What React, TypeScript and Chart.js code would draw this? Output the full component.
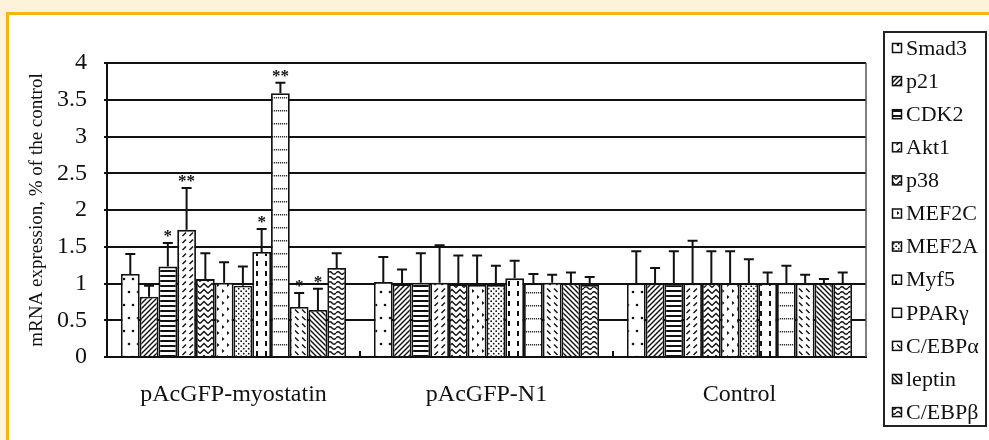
import React, { useEffect, useRef } from 'react';
import { Chart, registerables } from 'chart.js';

Chart.register(...registerables);

const SERIF = '"Liberation Serif", "Times New Roman", serif';

// Categories (groups on the x axis)
const groups = ['pAcGFP-myostatin', 'pAcGFP-N1', 'Control'];

// Series (genes), legend order
const genes = ['Smad3', 'p21', 'CDK2', 'Akt1', 'p38', 'MEF2C', 'MEF2A', 'Myf5', 'PPARγ', 'C/EBPα', 'leptin', 'C/EBPβ'];

// Mean values per gene for [pAcGFP-myostatin, pAcGFP-N1, Control]
const smad3 = [1.13, 1.02, 1.0];
const p21 = [0.82, 0.99, 1.0];
const cdk2 = [1.23, 1.01, 1.0];
const akt1 = [1.73, 1.01, 1.0];
const p38 = [1.06, 0.99, 1.0];
const mef2c = [1.01, 0.98, 1.0];
const mef2a = [0.97, 0.98, 1.0];
const myf5 = [1.43, 1.07, 1.0];
const pparg = [3.59, 1.0, 1.0];
const cebpa = [0.68, 1.01, 1.0];
const leptin = [0.64, 1.0, 1.0];
const cebpb = [1.21, 0.98, 1.0];

// Upper error (SD) per gene for the same groups
const smad3Err = [0.27, 0.34, 0.44];
const p21Err = [0.15, 0.2, 0.21];
const cdk2Err = [0.32, 0.4, 0.44];
const akt1Err = [0.57, 0.51, 0.58];
const p38Err = [0.35, 0.39, 0.44];
const mef2cErr = [0.28, 0.4, 0.44];
const mef2aErr = [0.26, 0.26, 0.33];
const myf5Err = [0.31, 0.24, 0.15];
const ppargErr = [0.14, 0.13, 0.24];
const cebpaErr = [0.19, 0.11, 0.12];
const leptinErr = [0.29, 0.15, 0.06];
const cebpbErr = [0.2, 0.11, 0.15];

// Significance marks per gene for the same groups
const smad3Sig = ['', '', ''];
const p21Sig = ['', '', ''];
const cdk2Sig = ['*', '', ''];
const akt1Sig = ['**', '', ''];
const p38Sig = ['', '', ''];
const mef2cSig = ['', '', ''];
const mef2aSig = ['', '', ''];
const myf5Sig = ['*', '', ''];
const ppargSig = ['**', '', ''];
const cebpaSig = ['*', '', ''];
const leptinSig = ['*', '', ''];
const cebpbSig = ['', '', ''];

// Y axis ticks
const yTicks = [0, 0.5, 1, 1.5, 2, 2.5, 3, 3.5, 4];

const seriesValues = [smad3, p21, cdk2, akt1, p38, mef2c, mef2a, myf5, pparg, cebpa, leptin, cebpb];
const seriesErrors = [smad3Err, p21Err, cdk2Err, akt1Err, p38Err, mef2cErr, mef2aErr, myf5Err, ppargErr, cebpaErr, leptinErr, cebpbErr];
const seriesSig = [smad3Sig, p21Sig, cdk2Sig, akt1Sig, p38Sig, mef2cSig, mef2aSig, myf5Sig, ppargSig, cebpaSig, leptinSig, cebpbSig];

type Drawer = (c: CanvasRenderingContext2D) => void;

function tile(w: number, h: number, draw: Drawer): HTMLCanvasElement {
  const cv = document.createElement('canvas');
  cv.width = w;
  cv.height = h;
  const c = cv.getContext('2d') as CanvasRenderingContext2D;
  c.fillStyle = '#ffffff';
  c.fillRect(0, 0, w, h);
  c.fillStyle = '#111';
  c.strokeStyle = '#111';
  c.lineCap = 'butt';
  draw(c);
  return cv;
}

function line(c: CanvasRenderingContext2D, pts: number[][], lw: number) {
  c.lineWidth = lw;
  c.beginPath();
  c.moveTo(pts[0][0], pts[0][1]);
  for (let i = 1; i < pts.length; i++) c.lineTo(pts[i][0], pts[i][1]);
  c.stroke();
}

function dot(c: CanvasRenderingContext2D, x: number, y: number, r: number) {
  c.beginPath();
  c.arc(x, y, r, 0, Math.PI * 2);
  c.fill();
}

function makeTiles(): HTMLCanvasElement[] {
  return [
    // Smad3: sparse dots
    tile(9, 26, (c) => { dot(c, 3, 6, 1.3); dot(c, 7, 19, 1.3); }),
    // p21: dense "/" lines
    tile(5, 5, (c) => { line(c, [[-1, 6], [6, -1]], 1.4); line(c, [[-1, 1], [1, -1]], 1.4); line(c, [[4, 6], [6, 4]], 1.4); }),
    // CDK2: horizontal lines
    tile(4, 5, (c) => { c.fillRect(0, 0, 4, 2); }),
    // Akt1: dashed "/"
    tile(7, 7, (c) => { line(c, [[0.5, 5], [4, 1.5]], 1.4); }),
    // p38: chevrons
    tile(8, 6, (c) => { line(c, [[0, 5.5], [4, 1.5], [8, 5.5]], 1.4); }),
    // MEF2C: small triangles
    tile(10, 12, (c) => {
      c.beginPath(); c.moveTo(2, 1); c.lineTo(4.5, 3); c.lineTo(2, 5); c.closePath(); c.fill();
      c.beginPath(); c.moveTo(7, 7); c.lineTo(9.5, 9); c.lineTo(7, 11); c.closePath(); c.fill();
    }),
    // MEF2A: dense dots
    tile(5, 5, (c) => { dot(c, 1.2, 1.2, 0.9); dot(c, 3.7, 3.7, 0.9); }),
    // Myf5: dashed vertical
    tile(9, 10, (c) => { c.fillRect(4, 1, 2, 5); }),
    // PPARγ: dotted rows
    tile(6, 13, (c) => { c.fillStyle = '#333'; c.fillRect(0, 6, 1.2, 1.5); c.fillRect(2, 6, 1.2, 1.5); c.fillRect(4, 6, 1.2, 1.5); }),
    // C/EBPα: dashed "\"
    tile(7, 7, (c) => { line(c, [[1, 1.5], [4.5, 5]], 1.4); }),
    // leptin: dense "\" lines
    tile(5, 5, (c) => { line(c, [[-1, -1], [6, 6]], 1.4); line(c, [[4, -1], [6, 1]], 1.4); line(c, [[-1, 4], [1, 6]], 1.4); }),
    // C/EBPβ: waves
    tile(8, 5, (c) => {
      c.lineWidth = 1.3;
      c.beginPath();
      c.moveTo(0, 3);
      c.quadraticCurveTo(2, 0.5, 4, 3);
      c.quadraticCurveTo(6, 5.5, 8, 3);
      c.stroke();
    }),
  ];
}

export default function App() {
  const ref = useRef<HTMLCanvasElement | null>(null);

  useEffect(() => {
    const canvas = ref.current;
    if (!canvas) return;
    const ctx = canvas.getContext('2d') as CanvasRenderingContext2D;
    const patterns = makeTiles().map((t) => ctx.createPattern(t, 'repeat') as CanvasPattern);

    const extras = {
      id: 'extras',
      afterDatasetsDraw(chart: any) {
        const c = chart.ctx as CanvasRenderingContext2D;
        const y = chart.scales.y;
        c.save();
        c.strokeStyle = '#111';
        c.fillStyle = '#111';
        chart.data.datasets.forEach((ds: any, i: number) => {
          const meta = chart.getDatasetMeta(i);
          meta.data.forEach((el: any, j: number) => {
            const v = seriesValues[i][j];
            const e = seriesErrors[i][j];
            const yTop = y.getPixelForValue(v + e);
            const yBar = y.getPixelForValue(v);
            c.lineWidth = 2;
            c.beginPath();
            c.moveTo(el.x, yBar);
            c.lineTo(el.x, yTop);
            c.moveTo(el.x - 5, yTop);
            c.lineTo(el.x + 5, yTop);
            c.stroke();
            const s = seriesSig[i][j];
            if (s) {
              c.font = 'bold 17px ' + SERIF;
              c.textAlign = 'center';
              c.textBaseline = 'alphabetic';
              c.fillText(s, el.x, yTop - 2);
            }
          });
        });
        c.restore();
      },
      afterDraw(chart: any) {
        const c = chart.ctx as CanvasRenderingContext2D;
        const area = chart.chartArea;
        const x = chart.scales.x;
        c.save();
        // right border of plot area
        c.strokeStyle = '#555';
        c.lineWidth = 1.5;
        c.beginPath();
        c.moveTo(area.right, area.top);
        c.lineTo(area.right, area.bottom);
        c.stroke();
        // category separator ticks
        c.strokeStyle = '#111';
        c.lineWidth = 2;
        const step = x.getPixelForValue(1) - x.getPixelForValue(0);
        for (let i = 1; i < groups.length; i++) {
          const px = x.getPixelForValue(i) - step / 2;
          c.beginPath();
          c.moveTo(px, area.bottom);
          c.lineTo(px, area.bottom - 6);
          c.stroke();
        }
        // legend
        const lx = 884, ly = 32, lw = 102, lh = 394;
        c.lineWidth = 2;
        c.strokeStyle = '#222';
        c.strokeRect(lx, ly, lw, lh);
        genes.forEach((g, i) => {
          const cy = 48 + i * 33.1;
          c.fillStyle = patterns[i];
          c.fillRect(892, cy - 5, 10, 10);
          c.lineWidth = 1.5;
          c.strokeStyle = '#111';
          c.strokeRect(892.5, cy - 4.5, 9, 9);
          c.fillStyle = '#111';
          c.font = '22px ' + SERIF;
          c.textAlign = 'left';
          c.textBaseline = 'middle';
          c.fillText(g, 906, cy + 1);
        });
        c.restore();
      },
    };

    const chart = new Chart(ctx, {
      type: 'bar',
      data: {
        labels: groups,
        datasets: genes.map((g, i) => ({
          label: g,
          data: seriesValues[i],
          backgroundColor: patterns[i],
          borderColor: '#111',
          borderWidth: 1.8,
          borderSkipped: 'start',
          categoryPercentage: 0.89,
          barPercentage: 1.0,
        })),
      },
      options: {
        animation: false,
        responsive: true,
        maintainAspectRatio: false,
        devicePixelRatio: 1,
        layout: { padding: { left: 0, top: 63, right: 123, bottom: 0 } },
        plugins: {
          legend: { display: false },
          tooltip: { enabled: false },
          title: { display: false },
        },
        scales: {
          x: {
            grid: { display: true, drawOnChartArea: false, drawTicks: false },
            border: { display: true, color: '#111', width: 2 },
            ticks: { color: '#111', padding: 23, font: { family: SERIF, size: 24 } },
            afterFit: (s: any) => { s.height = 83; },
          },
          y: {
            min: 0,
            max: 4,
            afterBuildTicks: (s: any) => { s.ticks = yTicks.map((v) => ({ value: v })); },
            grid: { color: '#111', lineWidth: 2, drawTicks: true, tickLength: 3 },
            border: { display: true, color: '#111', width: 2 },
            ticks: {
              color: '#111',
              padding: 17,
              font: { family: SERIF, size: 24 },
              callback: (v: any) => String(v),
            },
            title: {
              display: true,
              text: 'mRNA expression, % of the control',
              color: '#111',
              font: { family: SERIF, size: 19 },
              padding: { top: 26, bottom: 0 },
            },
            afterFit: (s: any) => { s.width = 107; },
          },
        },
      },
      plugins: [extras],
    });

    return () => chart.destroy();
  }, []);

  return (
    <div style={{ position: 'fixed', left: 0, top: 0, width: 989, height: 440, background: '#fdf3da', overflow: 'hidden' }}>
      <div
        style={{
          position: 'absolute',
          left: 6,
          top: 12,
          width: 989,
          height: 440,
          background: '#ffffff',
          borderLeft: '3px solid #f2b60f',
          borderTop: '3px solid #f2b60f',
        }}
      />
      <div style={{ position: 'absolute', left: 0, top: 0, width: 989, height: 440 }}>
        <canvas ref={ref} />
      </div>
    </div>
  );
}
